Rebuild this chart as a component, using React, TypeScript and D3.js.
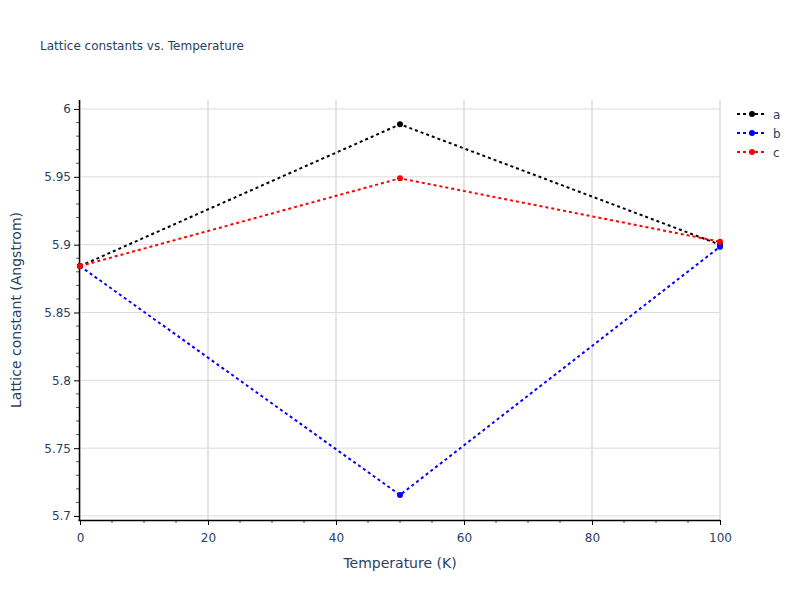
import React, { useEffect, useRef } from "react";
import * as d3 from "d3";

const temperatures = [0, 50, 100];
const seriesNames = ["a", "b", "c"];
const seriesColors = ["#000000", "#0000ff", "#ff0000"];
const aValues = [5.8842, 5.9887, 5.9];
const bValues = [5.8842, 5.7155, 5.8985];
const cValues = [5.8842, 5.9489, 5.9022];
const xTicks = [0, 20, 40, 60, 80, 100];
const yTicks = [5.7, 5.75, 5.8, 5.85, 5.9, 5.95, 6];
const title = "Lattice constants vs. Temperature";
const xTitle = "Temperature (K)";
const yTitle = "Lattice constant (Angstrom)";

const W = 800, H = 600;
const M = { l: 80, r: 80, t: 100, b: 80 };
const FONT = '"DejaVu Sans", verdana, arial, sans-serif';
const TXT = "#2a3f5f";

export default function App() {
  const ref = useRef<SVGSVGElement>(null);
  useEffect(() => {
    const svg = d3.select(ref.current);
    svg.selectAll("*").remove();
    const x = d3.scaleLinear().domain([0, 100]).range([M.l, W - M.r]);
    const y = d3.scaleLinear().domain([5.69705, 6.00663]).range([H - M.b, M.t]);

    svg.append("rect").attr("width", W).attr("height", H).attr("fill", "#fff");

    // grid
    const g = svg.append("g");
    g.selectAll("line.vx").data(xTicks).join("line")
      .attr("x1", d => x(d)).attr("x2", d => x(d)).attr("y1", M.t).attr("y2", H - M.b)
      .attr("stroke", "#e5e5e5").attr("stroke-width", 2);
    g.selectAll("line.hy").data(yTicks).join("line")
      .attr("x1", M.l).attr("x2", W - M.r).attr("y1", d => y(d)).attr("y2", d => y(d))
      .attr("stroke", "#dcdcdc").attr("stroke-width", 1);

    // minor ticks
    const xMinor = d3.range(0, 101, 5).filter(v => v % 20 !== 0);
    const yMinor = d3.range(570, 601, 1).map(v => v / 100).filter(v => Math.round(v * 100) % 5 !== 0);
    svg.append("g").selectAll("line").data(xMinor).join("line")
      .attr("x1", d => x(d)).attr("x2", d => x(d)).attr("y1", H - M.b).attr("y2", H - M.b + 3)
      .attr("stroke", "#555").attr("stroke-width", 1);
    svg.append("g").selectAll("line").data(yMinor).join("line")
      .attr("x1", M.l - 1 - 3).attr("x2", M.l - 1).attr("y1", d => y(d)).attr("y2", d => y(d))
      .attr("stroke", "#555").attr("stroke-width", 1);

    // axes
    const xa = svg.append("g").attr("transform", `translate(0,${H - M.b})`)
      .call(d3.axisBottom(x).tickValues(xTicks).tickSize(5).tickPadding(8).tickFormat(d3.format("d")));
    const ya = svg.append("g").attr("transform", `translate(${M.l - 1},0)`)
      .call(d3.axisLeft(y).tickValues(yTicks).tickSize(5).tickPadding(3).tickFormat(d => String(+d)));
    for (const a of [xa, ya]) {
      a.select(".domain").attr("stroke", "#000").attr("stroke-width", 1.5);
      a.selectAll(".tick line").attr("stroke", "#000");
      a.selectAll(".tick text").attr("fill", TXT).attr("font-size", 12).attr("font-family", FONT);
    }
    xa.select(".domain").attr("d", `M${M.l - 1.5},0.5H${W - M.r}`);
    ya.select(".domain").attr("d", `M0.5,${M.t}V${H - M.b + 1}`);

    // series
    const all = [aValues, bValues, cValues];
    const line = d3.line<number>().x((_, i) => x(temperatures[i])).y(d => y(d));
    all.forEach((vals, si) => {
      svg.append("path").attr("d", line(vals)).attr("fill", "none")
        .attr("stroke", seriesColors[si]).attr("stroke-width", 2).attr("stroke-dasharray", "3,3");
    });
    all.forEach((vals, si) => {
      svg.append("g").selectAll("circle").data(vals).join("circle")
        .attr("cx", (_, i) => x(temperatures[i])).attr("cy", d => y(d)).attr("r", 3)
        .attr("fill", seriesColors[si]);
    });

    // legend
    const lg = svg.append("g").attr("transform", "translate(737,114)");
    seriesNames.forEach((n, i) => {
      const row = lg.append("g").attr("transform", `translate(0,${i * 19})`);
      row.append("line").attr("x1", 0).attr("x2", 30).attr("y1", 0).attr("y2", 0)
        .attr("stroke", seriesColors[i]).attr("stroke-width", 2).attr("stroke-dasharray", "3,3");
      row.append("circle").attr("cx", 15).attr("cy", 0).attr("r", 3).attr("fill", seriesColors[i]);
      row.append("text").attr("x", 36).attr("y", 4.5).text(n)
        .attr("fill", TXT).attr("font-size", 12).attr("font-family", FONT);
    });

    // titles
    svg.append("text").attr("x", 40).attr("y", 50).text(title)
      .attr("fill", TXT).attr("font-size", 12).attr("font-family", FONT);
    svg.append("text").attr("x", (M.l + W - M.r) / 2).attr("y", 568).attr("text-anchor", "middle")
      .text(xTitle).attr("fill", TXT).attr("font-size", 14).attr("font-family", FONT);
    svg.append("text").attr("transform", `translate(21,${(M.t + H - M.b) / 2}) rotate(-90)`)
      .attr("text-anchor", "middle").text(yTitle)
      .attr("fill", TXT).attr("font-size", 14).attr("font-family", FONT);
  }, []);
  return (
    <div style={{ position: "absolute", left: 0, top: 0 }}>
      <svg ref={ref} width={W} height={H} style={{ display: "block" }} />
    </div>
  );
}
